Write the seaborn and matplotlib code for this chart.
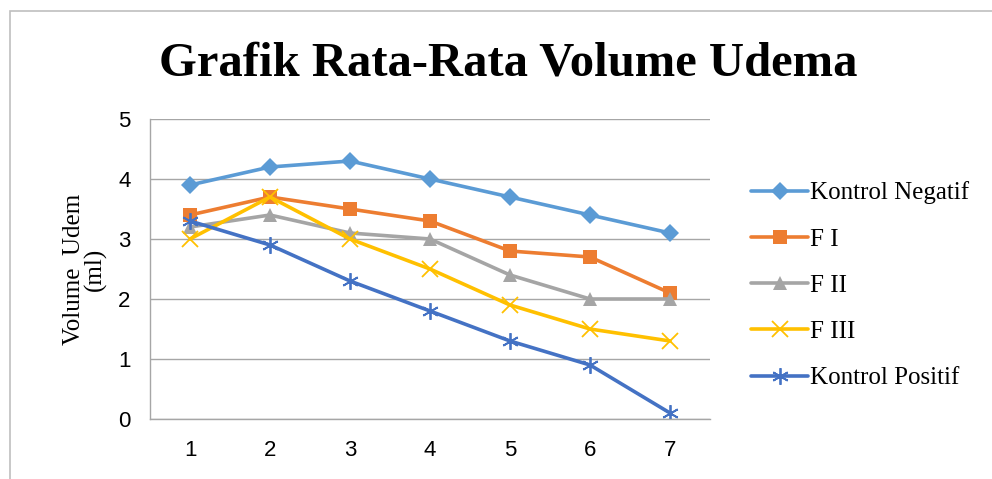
import pandas as pd
import matplotlib
matplotlib.use("Agg")
import matplotlib.pyplot as plt
import seaborn as sns
from matplotlib.patches import Rectangle

hari = [1, 2, 3, 4, 5, 6, 7]
kontrol_negatif = [3.9, 4.2, 4.3, 4.0, 3.7, 3.4, 3.1]
f_i = [3.4, 3.7, 3.5, 3.3, 2.8, 2.7, 2.1]
f_ii = [3.2, 3.4, 3.1, 3.0, 2.4, 2.0, 2.0]
f_iii = [3.0, 3.7, 3.0, 2.5, 1.9, 1.5, 1.3]
kontrol_positif = [3.3, 2.9, 2.3, 1.8, 1.3, 0.9, 0.1]

series_names = ["Kontrol Negatif", "F I", "F II", "F III", "Kontrol Positif"]
series_values = [kontrol_negatif, f_i, f_ii, f_iii, kontrol_positif]
colors = ["#5B9BD5", "#ED7D31", "#A5A5A5", "#FFC000", "#4472C4"]
markers = ["D", "s", "^", "x", (6, 2, 0)]
msizes = [9, 10, 10, 11, 12]

df = pd.DataFrame({
    "hari": hari * len(series_names),
    "volume": [v for vals in series_values for v in vals],
    "seri": [n for n in series_names for _ in hari],
})

sns.set_style("white")
plt.rcParams["font.family"] = ["Liberation Serif", "DejaVu Serif"]
plt.rcParams["text.color"] = "black"
plt.rcParams["axes.labelcolor"] = "black"

fig = plt.figure(figsize=(9.92, 4.79), dpi=100)
ax = fig.add_axes([150 / 992, 60 / 479, 560 / 992, 300 / 479])

for name, col, mk, ms in zip(series_names, colors, markers, msizes):
    sub = df[df["seri"] == name]
    sns.lineplot(data=sub, x="hari", y="volume", ax=ax, color=col, lw=2.6,
                 marker=mk, markersize=ms, markeredgecolor=col,
                 markeredgewidth=1.3 if mk == "x" or isinstance(mk, tuple) else 0,
                 label=name)

ax.set_xlim(0.5, 7.5)
ax.set_ylim(0, 5)
ax.set_xticks(hari)
ax.set_yticks([0, 1, 2, 3, 4, 5])
ax.grid(axis="y", color="#A6A6A6", lw=1)
ax.set_axisbelow(True)
for s in ["top", "right"]:
    ax.spines[s].set_visible(False)
for s in ["left", "bottom"]:
    ax.spines[s].set_color("#A6A6A6")
    ax.spines[s].set_linewidth(1)
ax.tick_params(axis="both", length=0, labelsize=16, colors="black")
ax.tick_params(axis="x", pad=15)
ax.tick_params(axis="y", pad=14)
for lab in ax.get_xticklabels() + ax.get_yticklabels():
    lab.set_fontfamily(["Liberation Sans", "DejaVu Sans"])
ax.set_xlabel("")
ax.set_ylabel("Volume  Udem\n(ml)", fontsize=18, labelpad=8, linespacing=0.95)

ax.legend(loc="center left", bbox_to_anchor=(1.055, 0.445), frameon=False,
          fontsize=18, handlelength=2.3, handletextpad=0.05, labelspacing=0.95,
          borderaxespad=0)

fig.text(0.512, 0.868, "Grafik Rata-Rata Volume Udema", ha="center", va="center",
         fontsize=35, fontweight="bold")

fig.patches.append(Rectangle((10 / 992, -0.1), 1.2, 1 - 11 / 479 + 0.1,
                             transform=fig.transFigure, fill=False,
                             edgecolor="#BFBFBF", lw=1.2))

fig.savefig("out.png", dpi=100)
